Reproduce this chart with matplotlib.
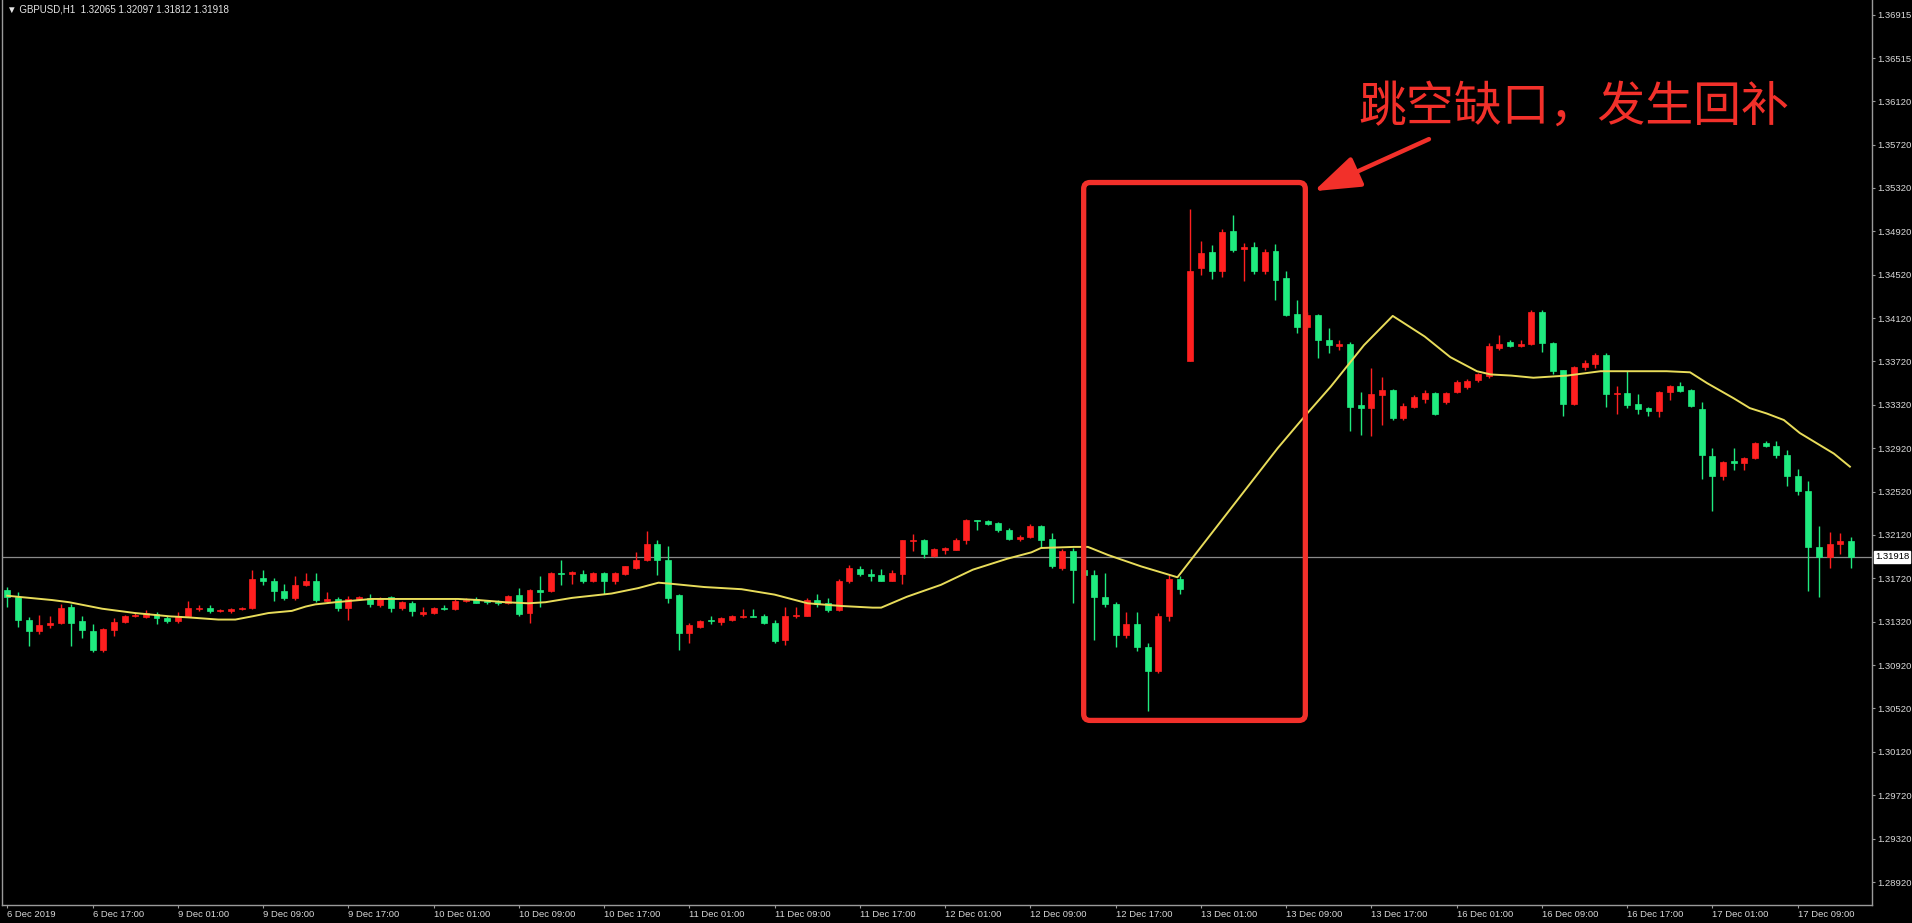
import matplotlib
matplotlib.use("Agg")
import matplotlib.pyplot as plt
from matplotlib.patches import FancyBboxPatch
from matplotlib.transforms import blended_transform_factory

# GBPUSD H1 candles, 6 Dec 2019 09:00 .. 17 Dec 2019 14:00 (one entry per bar)
opens = [
    # 6 Dec 09:00 - 23:00
    1.3161, 1.3155, 1.3134, 1.3123, 1.3129, 1.3131, 1.3146, 1.3133, 1.3123, 1.3106,
    1.3124, 1.3132, 1.3137, 1.3136, 1.3139,
    # 9 Dec
    1.3135, 1.3133, 1.3137, 1.3144, 1.3145, 1.3142, 1.3142, 1.3144, 1.3145, 1.3172,
    1.3170, 1.3160, 1.3154, 1.3166, 1.3170, 1.3151, 1.3153, 1.3145, 1.3153, 1.3154,
    1.3147, 1.3155, 1.3145, 1.3149,
    # 10 Dec
    1.3139, 1.3140, 1.3145, 1.3144, 1.3151, 1.3153, 1.3151, 1.3150, 1.3149, 1.3157,
    1.3140, 1.3161, 1.3160, 1.3177, 1.3176, 1.3176, 1.3170, 1.3177, 1.3170, 1.3176,
    1.3182, 1.3189, 1.3204, 1.3189,
    # 11 Dec
    1.3157, 1.3122, 1.3127, 1.3134, 1.3132, 1.3134, 1.3136, 1.3137, 1.3137, 1.3131,
    1.3115, 1.3137, 1.3137, 1.3152, 1.3149, 1.3143, 1.3170, 1.3181, 1.3176, 1.3175,
    1.3170, 1.3176, 1.3206, 1.3207,
    # 12 Dec
    1.3193, 1.3198, 1.3198, 1.3207, 1.3226, 1.3225, 1.3223, 1.3217, 1.3208, 1.3210,
    1.3220, 1.3208, 1.3182, 1.3197, 1.3180, 1.3175, 1.3155, 1.3148, 1.3120, 1.3130,
    1.3109, 1.3087, 1.3137, 1.3171,
    # 13 Dec
    1.3372, 1.3458, 1.3473, 1.3455, 1.3492, 1.3476, 1.3478, 1.3455, 1.3474, 1.3449,
    1.3416, 1.3404, 1.3415, 1.3392, 1.3386, 1.3388, 1.3332, 1.3329, 1.3341, 1.3346,
    1.3320, 1.3330, 1.3337, 1.3343,
    # 16 Dec
    1.3335, 1.3344, 1.3348, 1.3355, 1.3359, 1.3384, 1.3390, 1.3386, 1.3388, 1.3418,
    1.3389, 1.3364, 1.3333, 1.3367, 1.3370, 1.3378, 1.3342, 1.3343, 1.3333, 1.3329,
    1.3326, 1.3344, 1.3349, 1.3346,
    # 17 Dec 00:00 - 14:00
    1.3328, 1.3285, 1.3266, 1.3280, 1.3278, 1.3283, 1.3297, 1.3294, 1.3286, 1.3266,
    1.3253, 1.3201, 1.3192, 1.3204, 1.32065,
]

highs = [
    1.3164, 1.3159, 1.3136, 1.3138, 1.3137, 1.3148, 1.3148, 1.3137, 1.3130, 1.3126,
    1.3135, 1.3138, 1.3140, 1.3143, 1.3141,
    1.3137, 1.3141, 1.3151, 1.3147, 1.3147, 1.3144, 1.3145, 1.3146, 1.3180, 1.3180,
    1.3172, 1.3167, 1.3174, 1.3177, 1.3177, 1.3159, 1.3155, 1.3156, 1.3156, 1.3158,
    1.3155, 1.3156, 1.3151, 1.3151,
    1.3146, 1.3146, 1.3147, 1.3153, 1.3154, 1.3155, 1.3152, 1.3152, 1.3157, 1.3163,
    1.3162, 1.3174, 1.3178, 1.3189, 1.3179, 1.3180, 1.3178, 1.3178, 1.3178, 1.3183,
    1.3196, 1.3216, 1.3207, 1.3202,
    1.3158, 1.3131, 1.3134, 1.3137, 1.3136, 1.3138, 1.3144, 1.3144, 1.3139, 1.3134,
    1.3146, 1.3146, 1.3154, 1.3158, 1.3154, 1.3171, 1.3184, 1.3183, 1.3181, 1.3181,
    1.3180, 1.3207, 1.3213, 1.3208,
    1.3200, 1.3201, 1.3209, 1.3227, 1.3226, 1.3226, 1.3224, 1.3218, 1.3212, 1.3222,
    1.3221, 1.3214, 1.3199, 1.3200, 1.3182, 1.3180, 1.3177, 1.3150, 1.3141, 1.3141,
    1.3112, 1.3140, 1.3175, 1.3174,
    1.3513, 1.3483, 1.3479, 1.3494, 1.3507, 1.3481, 1.3482, 1.3476, 1.3480, 1.3455,
    1.3429, 1.3418, 1.3416, 1.3403, 1.3392, 1.3390, 1.3344, 1.3366, 1.3358, 1.3347,
    1.3334, 1.3341, 1.3346, 1.3344,
    1.3344, 1.3355, 1.3356, 1.3361, 1.3389, 1.3396, 1.3392, 1.3392, 1.3419, 1.3419,
    1.3390, 1.3364, 1.3368, 1.3373, 1.3380, 1.3380, 1.3349, 1.3363, 1.3342, 1.3330,
    1.3345, 1.3350, 1.3353, 1.3347,
    1.3335, 1.3292, 1.3280, 1.3292, 1.3284, 1.3298, 1.3299, 1.3299, 1.3290, 1.3273,
    1.3262, 1.3220, 1.3215, 1.3214, 1.32097,
]

lows = [
    1.3146, 1.3127, 1.3110, 1.3121, 1.3126, 1.3130, 1.3110, 1.3117, 1.3104, 1.3104,
    1.3119, 1.3131, 1.3136, 1.3135, 1.3130,
    1.3131, 1.3131, 1.3136, 1.3142, 1.3140, 1.3141, 1.3140, 1.3143, 1.3144, 1.3166,
    1.3151, 1.3152, 1.3152, 1.3165, 1.3150, 1.3150, 1.3142, 1.3134, 1.3152, 1.3146,
    1.3146, 1.3141, 1.3143, 1.3137,
    1.3137, 1.3139, 1.3143, 1.3143, 1.3150, 1.3149, 1.3148, 1.3147, 1.3148, 1.3137,
    1.3131, 1.3146, 1.3159, 1.3166, 1.3167, 1.3168, 1.3169, 1.3158, 1.3167, 1.3175,
    1.3181, 1.3188, 1.3175, 1.3149,
    1.3106, 1.3112, 1.3126, 1.3130, 1.3129, 1.3133, 1.3135, 1.3136, 1.3130, 1.3112,
    1.3111, 1.3135, 1.3137, 1.3146, 1.3141, 1.3142, 1.3168, 1.3174, 1.3170, 1.3170,
    1.3170, 1.3167, 1.3197, 1.3191,
    1.3192, 1.3194, 1.3198, 1.3204, 1.3217, 1.3221, 1.3215, 1.3207, 1.3206, 1.3209,
    1.3201, 1.3182, 1.3180, 1.3149, 1.3161, 1.3115, 1.3146, 1.3109, 1.3117, 1.3105,
    1.3050, 1.3085, 1.3133, 1.3158,
    1.3372, 1.3452, 1.3448, 1.3450, 1.3473, 1.3446, 1.3453, 1.3453, 1.3429, 1.3414,
    1.3398, 1.3402, 1.3375, 1.3380, 1.3383, 1.3308, 1.3304, 1.3303, 1.3313, 1.3318,
    1.3318, 1.3329, 1.3334, 1.3323,
    1.3333, 1.3343, 1.3347, 1.3353, 1.3357, 1.3383, 1.3385, 1.3385, 1.3387, 1.3381,
    1.3360, 1.3322, 1.3332, 1.3364, 1.3366, 1.3330, 1.3324, 1.3329, 1.3324, 1.3322,
    1.3321, 1.3336, 1.3344, 1.3330,
    1.3264, 1.3234, 1.3263, 1.3272, 1.3272, 1.3282, 1.3293, 1.3283, 1.3257, 1.3249,
    1.3160, 1.3155, 1.3182, 1.3194, 1.31812,
]

closes = [
    1.3155, 1.3134, 1.3123, 1.3129, 1.3131, 1.3145, 1.3131, 1.3124, 1.3106, 1.3125,
    1.3132, 1.3137, 1.3138, 1.3140, 1.3135,
    1.3133, 1.3137, 1.3145, 1.3145, 1.3142, 1.3143, 1.3144, 1.3145, 1.3171, 1.3170,
    1.3160, 1.3154, 1.3166, 1.3170, 1.3152, 1.3153, 1.3145, 1.3153, 1.3155, 1.3148,
    1.3154, 1.3145, 1.3150, 1.3142,
    1.3141, 1.3145, 1.3144, 1.3151, 1.3152, 1.3149, 1.3150, 1.3149, 1.3156, 1.3139,
    1.3161, 1.3159, 1.3177, 1.3176, 1.3178, 1.3170, 1.3177, 1.3170, 1.3177, 1.3183,
    1.3189, 1.3204, 1.3189, 1.3154,
    1.3122, 1.3129, 1.3133, 1.3133, 1.3135, 1.3137, 1.3137, 1.3136, 1.3131, 1.3114,
    1.3137, 1.3138, 1.3152, 1.3148, 1.3143, 1.3170, 1.3182, 1.3176, 1.3174, 1.3170,
    1.3177, 1.3207, 1.3207, 1.3194,
    1.3199, 1.3200, 1.3207, 1.3226, 1.3225, 1.3222, 1.3217, 1.3208, 1.3210, 1.3220,
    1.3207, 1.3183, 1.3197, 1.3180, 1.3175, 1.3155, 1.3148, 1.3120, 1.3130, 1.3109,
    1.3087, 1.3137, 1.3171, 1.3162,
    1.3455, 1.3472, 1.3455, 1.3491, 1.3475, 1.3478, 1.3455, 1.3473, 1.3447, 1.3415,
    1.3404, 1.3415, 1.3392, 1.3387, 1.3388, 1.3330, 1.3329, 1.3342, 1.3346, 1.3320,
    1.3331, 1.3339, 1.3343, 1.3324,
    1.3343, 1.3353, 1.3354, 1.3360, 1.3386, 1.3388, 1.3386, 1.3388, 1.3418, 1.3389,
    1.3363, 1.3333, 1.3367, 1.3371, 1.3378, 1.3342, 1.3343, 1.3332, 1.3328, 1.3326,
    1.3344, 1.3349, 1.3345, 1.3331,
    1.3286, 1.3266, 1.3279, 1.3278, 1.3283, 1.3297, 1.3294, 1.3286, 1.3266, 1.3253,
    1.3201, 1.3192, 1.3204, 1.3206, 1.31918,
]

# Moving average line, read as (bar index, price) points
ma_bars = [0, 1, 4.2, 5.8, 8.9, 12, 15.2, 17, 19.8, 21.4, 23, 24.5, 26.7, 28, 28.9,
           30.8, 34.2, 42.3, 44.2, 46.7, 48.9, 50.5, 53.0, 56.7, 59.2, 61.1, 62.3,
           65.4, 68.9, 72.0, 75.1, 78.3, 81.2, 82.0, 84.4, 87.6, 90.6, 93.8, 96.1,
           97.0, 100.1, 101.4, 103.3, 106.4, 109.8, 119.2, 121.7, 124.2, 127.3,
           130.0, 133.0, 135.4, 137.9, 139.2, 141.1, 143.2, 146.4, 149.5, 152.6,
           155.7, 157.9, 159.5, 162.0, 163.5, 165.1, 166.7, 168.2, 171.4, 172.9]
ma_values = [1.3156, 1.3155, 1.3152, 1.3150, 1.3144, 1.3140, 1.3137, 1.3136, 1.3134,
             1.3134, 1.3137, 1.3140, 1.3142, 1.3146, 1.3148, 1.3150, 1.3153, 1.3153,
             1.3152, 1.3150, 1.3149, 1.3150, 1.3154, 1.3158, 1.3163, 1.3168, 1.3167,
             1.3164, 1.3162, 1.3157, 1.3149, 1.31465, 1.3145, 1.3145, 1.3155, 1.3166,
             1.3180, 1.3190, 1.3196, 1.3200, 1.3201, 1.3201, 1.31935, 1.3183, 1.3173,
             1.3292, 1.3321, 1.3349, 1.3387, 1.3414, 1.3395, 1.3376, 1.3363, 1.3360,
             1.3359, 1.3357, 1.3359, 1.3363, 1.3363, 1.3363, 1.3362, 1.3352, 1.3338,
             1.3329, 1.3324, 1.3318, 1.3306, 1.3287, 1.3275]

# Axis labels as shown by the terminal
price_ticks = [1.36915, 1.36515, 1.36120, 1.35720, 1.35320, 1.34920, 1.34520, 1.34120,
               1.33720, 1.33320, 1.32920, 1.32520, 1.32120, 1.31720, 1.31320, 1.30920,
               1.30520, 1.30120, 1.29720, 1.29320, 1.28920]
time_ticks = [0, 8, 16, 24, 32, 40, 48, 56, 64, 72, 80, 88, 96, 104, 112, 120, 128,
              136, 144, 152, 160, 168]
time_labels = ["6 Dec 2019", "6 Dec 17:00", "9 Dec 01:00", "9 Dec 09:00", "9 Dec 17:00",
               "10 Dec 01:00", "10 Dec 09:00", "10 Dec 17:00", "11 Dec 01:00",
               "11 Dec 09:00", "11 Dec 17:00", "12 Dec 01:00", "12 Dec 09:00",
               "12 Dec 17:00", "13 Dec 01:00", "13 Dec 09:00", "13 Dec 17:00",
               "16 Dec 01:00", "16 Dec 09:00", "16 Dec 17:00", "17 Dec 01:00",
               "17 Dec 09:00"]

bid_price = 1.31918
header = "\u25bc GBPUSD,H1  1.32065 1.32097 1.31812 1.31918"
note = "跳空缺口，发生回补"

# Annotation box around the gap (bars / prices)
box_left, box_right = 101.0, 121.8
box_bottom, box_top = 1.3041, 1.3537

UP_COLOR = "#ff1f1f"
DOWN_COLOR = "#1fea7f"
MARK_COLOR = "#f2302a"
SMALL_FONT = ["Liberation Sans", "DejaVu Sans"]


def draw_candles(ax):
    """
    Draws wicks and bodies for every bar.
    """
    xs = list(range(len(opens)))
    colors = [UP_COLOR if c >= o else DOWN_COLOR for o, c in zip(opens, closes)]

    # Wicks
    ax.vlines(xs, lows, highs, colors=colors, linewidth=1.0, zorder=2)

    # Bodies
    bottoms = [min(o, c) for o, c in zip(opens, closes)]
    heights = [max(abs(c - o), 0.00002) for o, c in zip(opens, closes)]
    ax.bar(xs, heights, bottom=bottoms, width=0.56, color=colors,
           edgecolor=colors, linewidth=0.5, zorder=3)


def draw_marks(ax):
    """
    Draws the red box, the arrow and the Chinese note.
    """
    # Ratio of price units to bar units on screen, keeps the corners round
    aspect = (9.2215e-5) / (1 / 10.67)
    box = FancyBboxPatch((box_left, box_bottom), box_right - box_left,
                         box_top - box_bottom,
                         boxstyle="round,pad=0,rounding_size=0.6",
                         mutation_aspect=aspect, fill=False,
                         edgecolor=MARK_COLOR, linewidth=3.8, zorder=5)
    ax.add_patch(box)

    ax.annotate("", xy=(122.6, 1.3529), xytext=(133.4, 1.3577),
                arrowprops=dict(arrowstyle="-|>,head_length=1.3,head_width=0.45",
                                color=MARK_COLOR, lw=3.2, mutation_scale=22,
                                shrinkA=0, shrinkB=0),
                zorder=5)

    ax.text(147.0, 1.36067, note, color=MARK_COLOR, fontsize=34.5,
            family=["Noto Sans CJK SC", "DejaVu Sans"],
            ha="center", va="center", zorder=5)


def main():

    fig = plt.figure(figsize=(19.12, 9.23), dpi=100, facecolor="black")
    ax = fig.add_axes([0.0012, 1 - 905 / 923, 1870 / 1912, 905 / 923])
    ax.set_facecolor("black")

    # Bid line first so candles sit on top of it
    ax.axhline(bid_price, color="#8a8a8a", linewidth=0.9, zorder=1)

    ax.plot(ma_bars, ma_values, color="#e8dc5a", linewidth=1.4, zorder=4)
    draw_candles(ax)
    draw_marks(ax)

    ax.set_xlim(-0.47, 175.0)
    ax.set_ylim(1.28708, 1.37053)

    # Frame like the terminal: left, right and bottom lines
    for side in ["left", "right", "bottom"]:
        ax.spines[side].set_color("#9a9a9a")
        ax.spines[side].set_linewidth(1.0)
    ax.spines["top"].set_visible(False)

    ax.yaxis.tick_right()
    ax.set_yticks(price_ticks)
    ax.set_yticklabels(["%.5f" % p for p in price_ticks], family=SMALL_FONT)
    ax.set_xticks(time_ticks)
    ax.set_xticklabels(time_labels, family=SMALL_FONT)
    for lbl in ax.get_xticklabels():
        lbl.set_ha("left")
    ax.tick_params(axis="both", colors="#9a9a9a", labelcolor="#d8d8d8",
                   labelsize=6.8, length=2.5, width=0.8, pad=1.0)

    # Current price tag on the price scale
    trans = blended_transform_factory(ax.transAxes, ax.transData)
    ax.text(1.0015, bid_price, "%.5f" % bid_price, transform=trans, fontsize=6.8,
            family=SMALL_FONT, color="black", ha="left", va="center", clip_on=False,
            bbox=dict(boxstyle="square,pad=0.12", fc="white", ec="white"), zorder=6)

    fig.text(0.0035, 0.995, header, color="#e6e6e6", fontsize=7,
             family=SMALL_FONT, ha="left", va="top")

    fig.savefig("out.png", dpi=100, facecolor="black")


if __name__ == '__main__':
    main()
